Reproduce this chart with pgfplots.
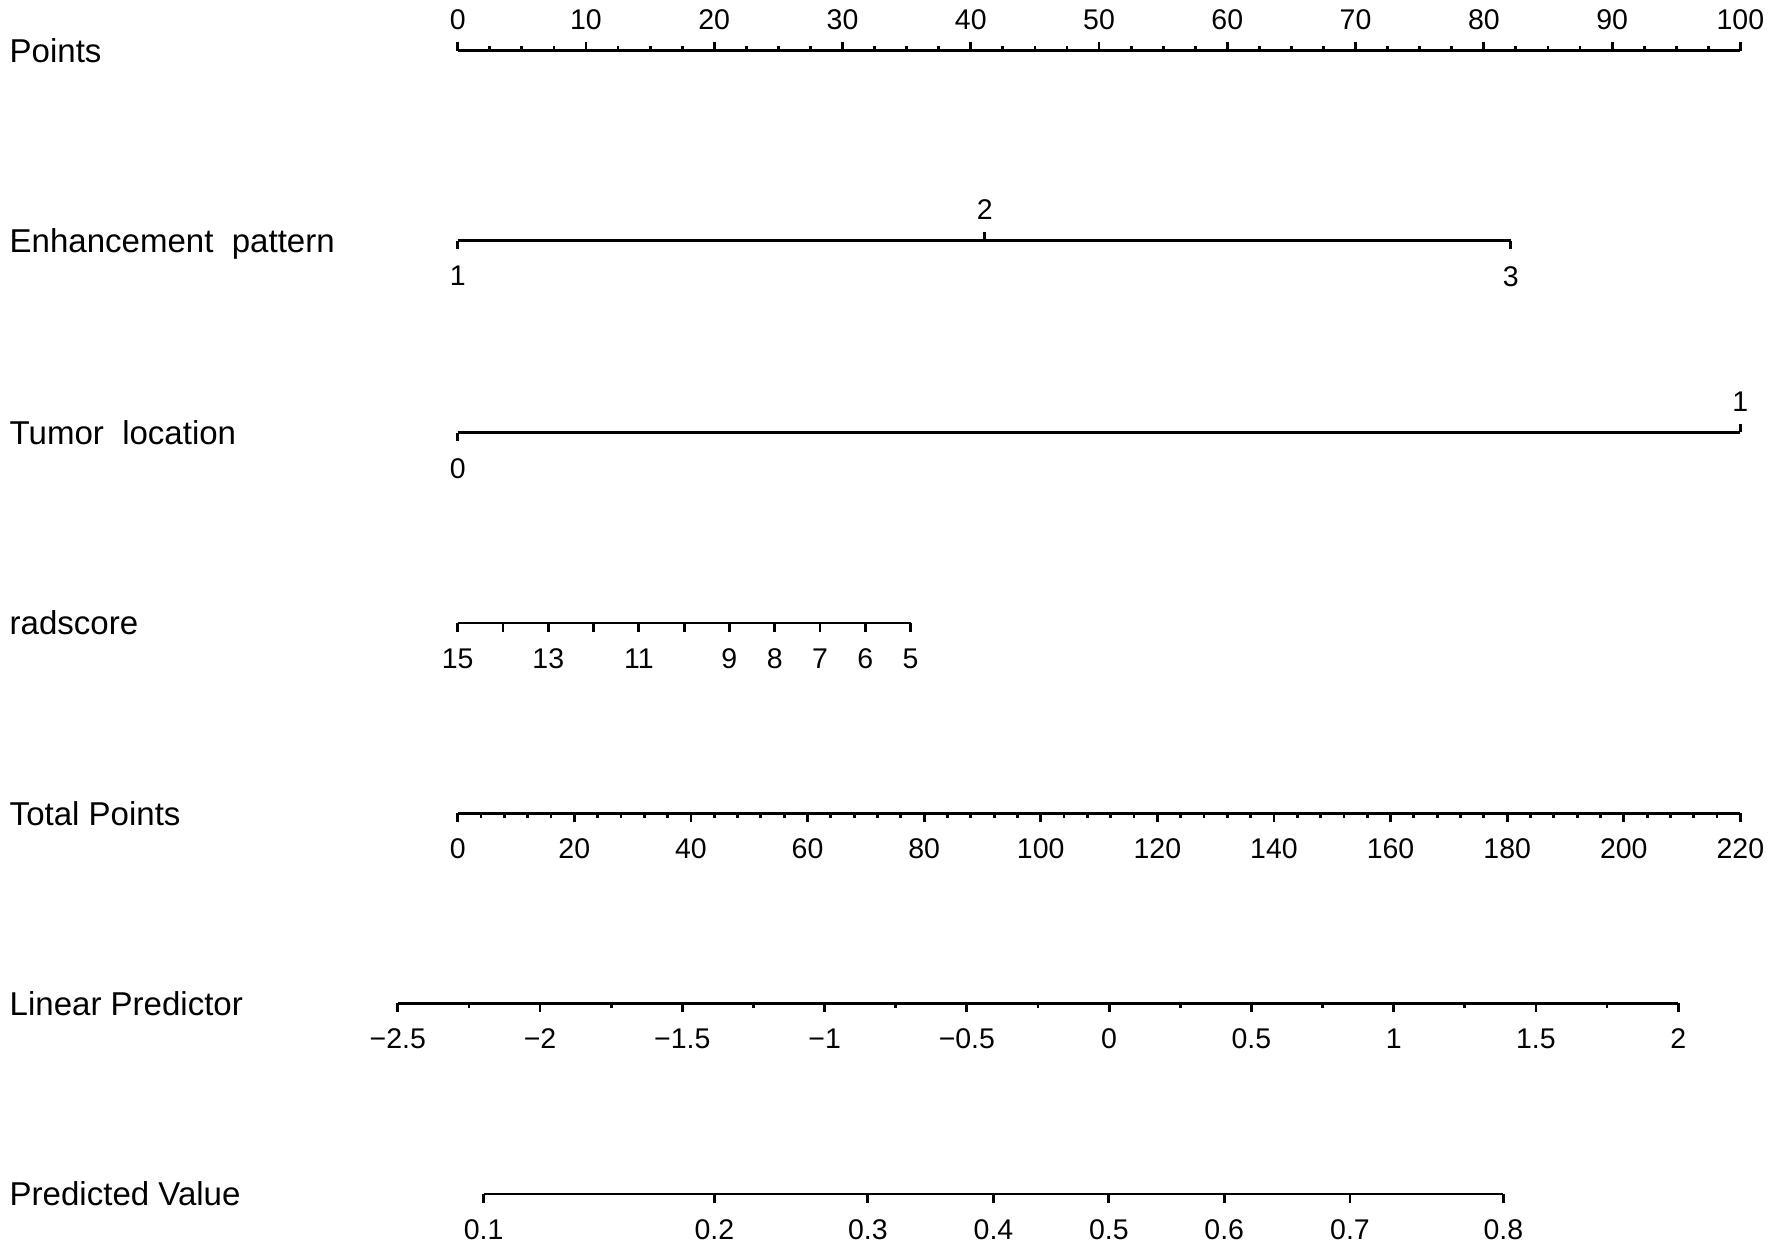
\documentclass[border=0pt]{standalone}
\usepackage{fontspec}
\setmainfont{Liberation Sans}
\usepackage{pgfplots}
\pgfplotsset{compat=1.18}

% one nomogram scale per axis; all axes share the canvas frame in cm
\pgfplotsset{
  nomo/.style={
    y=0.1pt, ymin=0, ymax=1,
    axis y line=none, ytick=\empty,
    major tick style={line width=0.8pt, black},
    minor tick style={line width=0.8pt, black},
    major tick length=0.085cm, minor tick length=0.045cm,
    tick label style={font=\fontsize{8.1}{8}\selectfont, black},
    anchor=south west, clip=false,
  },
  bot/.style={axis x line=bottom, xtick align=outside,
    xticklabel style={yshift=-0.045cm},
    x axis line style={-, line width=0.8pt, black}},
  top/.style={axis x line=top, xtick align=outside,
    x axis line style={-, line width=0.8pt, black}},
}
\newcommand{\rowlab}{\fontsize{9.4}{11}\selectfont}

\begin{document}
\begin{tikzpicture}
\useasboundingbox (0,0) rectangle (17.72,12.48);

% Points
\begin{axis}[nomo, top, at={(4.577cm,11.971cm)}, x=0.12827cm, xmin=0, xmax=100,
  xtick={0,10,20,30,40,50,60,70,80,90,100},
  xticklabels={0,10,20,30,40,50,60,70,80,90,100},
  minor tick num=3]
\end{axis}

% Enhancement pattern (levels 1,3 below, 2 above)
\begin{axis}[nomo, bot, at={(4.577cm,10.073cm)}, x=0.12827cm, xmin=0, xmax=82.1,
  xtick={0,82.1}, xticklabels={1,3}]
\end{axis}
\begin{axis}[nomo, top, at={(4.577cm,10.073cm)}, x=0.12827cm, xmin=0, xmax=82.1,
  xtick={41.1}, xticklabels={2}]
\end{axis}

% Tumor location
\begin{axis}[nomo, bot, at={(4.577cm,8.152cm)}, x=0.12827cm, xmin=0, xmax=100,
  xtick={0}, xticklabels={0}]
\end{axis}
\begin{axis}[nomo, top, at={(4.577cm,8.152cm)}, x=0.12827cm, xmin=0, xmax=100,
  xtick={100}, xticklabels={1}]
\end{axis}

% radscore (15 on the left, 5 on the right)
\begin{axis}[nomo, bot, at={(4.577cm,6.25cm)}, x=0.4528cm, xmin=-15, xmax=-5,
  xtick={-15,-14,-13,-12,-11,-10,-9,-8,-7,-6,-5},
  xticklabels={15,,13,,11,,9,8,7,6,5}]
\end{axis}

% Total Points
\begin{axis}[nomo, bot, at={(4.577cm,4.345cm)}, x=0.058304cm, xmin=0, xmax=220,
  xtick={0,20,40,60,80,100,120,140,160,180,200,220},
  xticklabels={0,20,40,60,80,100,120,140,160,180,200,220},
  minor tick num=4]
\end{axis}

% Linear Predictor
\begin{axis}[nomo, bot, at={(3.978cm,2.446cm)}, x=2.8453cm, xmin=-2.5, xmax=2,
  xtick={-2.5,-2,-1.5,-1,-0.5,0,0.5,1,1.5,2},
  xticklabels={−2.5,−2,−1.5,−1,−0.5,0,0.5,1,1.5,2},
  minor tick num=1]
\end{axis}

% Predicted Value (ticks at logit of the probability)
\begin{axis}[nomo, bot, at={(4.837cm,0.54cm)}, x=2.8453cm, xmin=-2.1972, xmax=1.3863,
  xtick={-2.1972,-1.3863,-0.8473,-0.4055,0,0.4055,0.8473,1.3863},
  xticklabels={0.1,0.2,0.3,0.4,0.5,0.6,0.7,0.8}]
\end{axis}

% row labels
\foreach \yy/\txt in {11.971/Points, 10.073/Enhancement~ pattern,
  8.152/Tumor~ location, 6.25/radscore, 4.345/Total Points,
  2.446/Linear Predictor, 0.54/Predicted Value}
  \node[anchor=base west, inner sep=0pt, font=\rowlab] at (0.09,\yy-0.12) {\txt};
\end{tikzpicture}
\end{document}
